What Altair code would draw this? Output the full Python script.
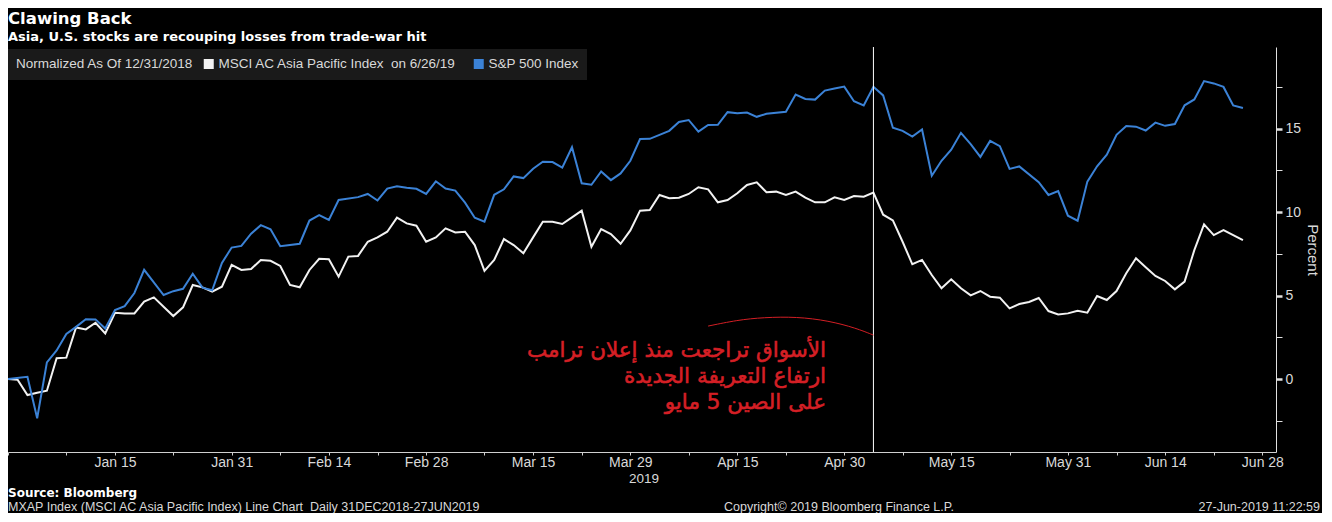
import altair as alt
import pandas as pd

# ---------------- data (percent change since 12/31/2018, one value per weekday) ----------------
day_index = list(range(128))  # 0 = 31 Dec 2018 ... 127 = 26 Jun 2019 (weekdays)

msci_ap = [0.00, -0.05, -0.96, -0.82, -0.70, 1.24, 1.28, 3.09, 2.97, 3.37,
           2.73, 3.97, 3.93, 3.93, 4.63, 4.89, 4.33, 3.77, 4.29, 5.63,
           5.49, 5.23, 5.53, 6.83, 6.53, 6.59, 7.13, 7.08, 6.77, 5.63,
           5.49, 6.53, 7.20, 7.17, 6.13, 7.33, 7.37, 8.22, 8.48, 8.82,
           9.66, 9.32, 9.18, 8.22, 8.48, 9.02, 8.78, 8.82, 8.02, 6.47,
           7.13, 8.38, 8.02, 7.53, 8.48, 9.42, 9.42, 9.28, 9.68, 10.08,
           7.92, 8.98, 8.68, 8.10, 8.90, 10.08, 10.12, 11.02, 10.82, 10.86,
           11.08, 11.48, 11.36, 10.58, 10.72, 11.12, 11.62, 11.78, 11.18, 11.22,
           11.02, 11.22, 10.86, 10.58, 10.58, 10.88, 10.72, 10.96, 10.92, 11.16,
           9.84, 9.50, 8.22, 6.87, 7.13, 6.23, 5.43, 5.97, 5.43, 5.01,
           5.27, 4.93, 4.87, 4.23, 4.49, 4.61, 4.85, 4.07, 3.87, 3.93,
           4.09, 3.97, 4.97, 4.73, 5.27, 6.33, 7.23, 6.69, 6.17, 5.87,
           5.37, 5.83, 7.72, 9.26, 8.62, 8.92, 8.62, 8.32]

sp500 = [0.00, None, 0.13, -2.35, 1.00, 1.71, 2.70, 3.12, 3.58, 3.57,
         3.02, 4.13, 4.36, 5.15, 6.54, None, 5.03, 5.26, 5.40, 6.30,
         5.47, 5.31, 6.95, 7.87, 7.97, 8.70, 9.21, 8.97, 7.95, 8.02,
         8.10, 9.49, 9.82, 9.53, 10.72, None, 10.89, 11.08, 10.69, 11.40,
         11.54, 11.45, 11.39, 11.08, 11.84, 11.41, 11.28, 10.56, 9.66, 9.42,
         11.03, 11.36, 12.13, 12.03, 12.59, 13.01, 12.99, 12.66, 13.88, 11.72,
         11.63, 12.43, 11.91, 12.31, 13.07, 14.37, 14.38, 14.62, 14.86, 15.39,
         15.51, 14.81, 15.21, 15.22, 15.98, 15.91, 15.96, 15.70, 15.88, None,
         16.00, 17.03, 16.77, 16.73, 17.27, 17.40, 17.51, 16.63, 16.38, 17.50,
         16.98, 15.05, 14.86, 14.52, 14.94, 12.17, 13.07, 13.73, 14.74, 14.07,
         13.30, 14.26, 13.94, 12.58, 12.73, None, 11.79, 11.02, 11.25, 9.78,
         9.48, 11.82, 12.74, 13.43, 14.62, 15.15, 15.11, 14.88, 15.35, 15.16,
         15.27, 16.39, 16.74, 17.84, 17.70, 17.49, 16.38, 16.23]

series_names = ["MSCI AC Asia Pacific Index\u00a0\u00a0on 6/26/19", "S&P 500 Index"]
series_colors = ["#f2f2f2", "#3b82d6"]

x_label_days = [11, 23, 33, 43, 54, 64, 75, 86, 97, 109, 119, 129]
x_labels = ["Jan 15", "Jan 31", "Feb 14", "Feb 28", "Mar 15", "Mar 29",
            "Apr 15", "Apr 30", "May 15", "May 31", "Jun 14", "Jun 28"]
x_other_ticks = [0, 6, 17, 28, 38, 49, 59, 70, 80, 92, 103, 114, 124]
y_ticks = [-2.5, 0, 2.5, 5, 7.5, 10, 12.5, 15, 17.5]

event_day = [89]  # 3 May 2019, before the tariff announcement

arc_days = [72.0, 75.0, 77.7, 81.1, 84.4, 87.2, 89.0]
arc_values = [3.17, 3.53, 3.69, 3.73, 3.49, 3.05, 2.63]

annotation_lines = ["الأسواق تراجعت منذ إعلان ترامب",
                    "ارتفاع التعريفة الجديدة",
                    "على الصين 5 مايو"]

# ---------------- build tables ----------------
rows = []
for d, v in zip(day_index, msci_ap):
    rows.append({"day": d, "series": series_names[0], "value": v})
for d, v in zip(day_index, sp500):
    if v is not None:
        rows.append({"day": d, "series": series_names[1], "value": v})
df = pd.DataFrame(rows)

arc_df = pd.DataFrame({"day": arc_days, "value": arc_values})
event_df = pd.DataFrame({"day": event_day})

NARROW = "Liberation Sans, Arial, sans-serif"
BOLD = "DejaVu Sans"
LABEL_GREY = "#d9d9d9"
RED = "#d41f25"

W, H = 1268, 405

# filled square drawn as stacked strokes (legend symbols of line marks are stroked)
SQUARE_PATH = "M-1,-0.8H1M-1,-0.4H1M-1,0H1M-1,0.4H1M-1,0.8H1"

x_expr = " : ".join(f"datum.value === {d} ? '{l}'" for d, l in zip(x_label_days, x_labels)) + " : ''"

x_enc = alt.X(
    "day:Q",
    scale=alt.Scale(domain=[0, 130.4], nice=False, zero=False),
    axis=alt.Axis(values=sorted(x_label_days + x_other_ticks), labelExpr=x_expr, title=None,
                  grid=False, domainColor="#cfcfcf", tickColor="#cfcfcf", tickSize=3,
                  labelColor=LABEL_GREY, labelFont=NARROW, labelFontSize=14, labelPadding=0,
                  labelOverlap=False, labelFlush=False),
)
y_enc = alt.Y(
    "value:Q",
    scale=alt.Scale(domain=[-4.37, 19.88], nice=False, zero=False),
    axis=alt.Axis(orient="right", values=y_ticks,
                  labelExpr="datum.value % 5 === 0 ? datum.label : ''",
                  title="Percent", titleAngle=90, titleFont=NARROW, titleFontSize=15,
                  titleFontWeight="normal", titleColor=LABEL_GREY, titlePadding=4,
                  grid=False, domainColor="#e0e0e0", tickColor="#e0e0e0", tickSize=6,
                  tickWidth={"condition": {"test": "datum.value % 5 === 0", "value": 2.5}, "value": 1},
                  labelColor=LABEL_GREY, labelFont=NARROW, labelFontSize=14, labelPadding=3,
                  labelOverlap=False, labelFlush=False),
)

lines = alt.Chart(df).mark_line(strokeWidth=2).encode(
    x=x_enc,
    y=y_enc,
    color=alt.Color(
        "series:N",
        scale=alt.Scale(domain=series_names, range=series_colors),
        legend=alt.Legend(
            orient="none", legendX=0, legendY=2, direction="horizontal",
            title="Normalized As Of 12/31/2018", titleOrient="left",
            titleFont=NARROW, titleFontSize=13.5, titleFontWeight="normal",
            titleColor=LABEL_GREY, titlePadding=8, titleBaseline="middle",
            labelFont=NARROW, labelFontSize=13.5, labelColor=LABEL_GREY, labelOffset=3,
            labelLimit=400, titleLimit=400,
            symbolType=SQUARE_PATH, symbolSize=100, symbolStrokeWidth=2,
            columnPadding=12, padding=8, fillColor="#1a1a1a",
        ),
    ),
    order=alt.Order("day:Q"),
)

vline = alt.Chart(event_df).mark_rule(color="#ffffff", strokeWidth=1).encode(x="day:Q")

arc = alt.Chart(arc_df).mark_line(color=RED, strokeWidth=1, interpolate="basis").encode(
    x="day:Q", y="value:Q")


def label(text, x, y, font=NARROW, size=13, weight="normal", color=LABEL_GREY, align="left"):
    return alt.Chart(alt.Data(values=[{}])).mark_text(
        text=text, font=font, fontSize=size, fontWeight=weight, color=color,
        align=align, baseline="alphabetic",
    ).encode(x=alt.value(x), y=alt.value(y))


title = label("Clawing Back", 0, -23, font=BOLD, size=16.5, weight="bold", color="#ffffff")
subtitle = label("Asia, U.S. stocks are recouping losses from trade-war hit", 0, -6,
                 font=BOLD, size=13, weight="bold", color="#ffffff")
year = label("2019", 636, 436, size=13.5, align="center")
source = label("Source: Bloomberg", 0, 450, font=BOLD, size=12, weight="bold", color="#ffffff")
foot1 = label("MXAP Index (MSCI AC Asia Pacific Index) Line Chart\u00a0\u00a0Daily 31DEC2018-27JUN2019",
              0, 464, size=12.5)
foot2 = label("Copyright\u00a9 2019 Bloomberg Finance L.P.", 716, 464, size=12.5)
foot3 = label("27-Jun-2019 11:22:59", 1312, 464, size=12.5, align="right")

annotation = alt.Chart(alt.Data(values=[{}])).mark_text(
    text=annotation_lines, font="DejaVu Sans", fontSize=21.5, color=RED,
    stroke=RED, strokeWidth=0.6,
    align="right", baseline="alphabetic", lineHeight=26,
).encode(x=alt.value(818), y=alt.value(310))

chart = alt.layer(
    lines, vline, arc, annotation, title, subtitle, year, source, foot1, foot2, foot3
).properties(
    width=W, height=H,
    padding={"left": 0, "top": 39, "right": 46, "bottom": 61},
    autosize=alt.AutoSizeParams(type="none"),
    background="#000000",
).configure_view(stroke=None)

chart.save("out.html", embed_options={"renderer": "svg", "actions": False})
